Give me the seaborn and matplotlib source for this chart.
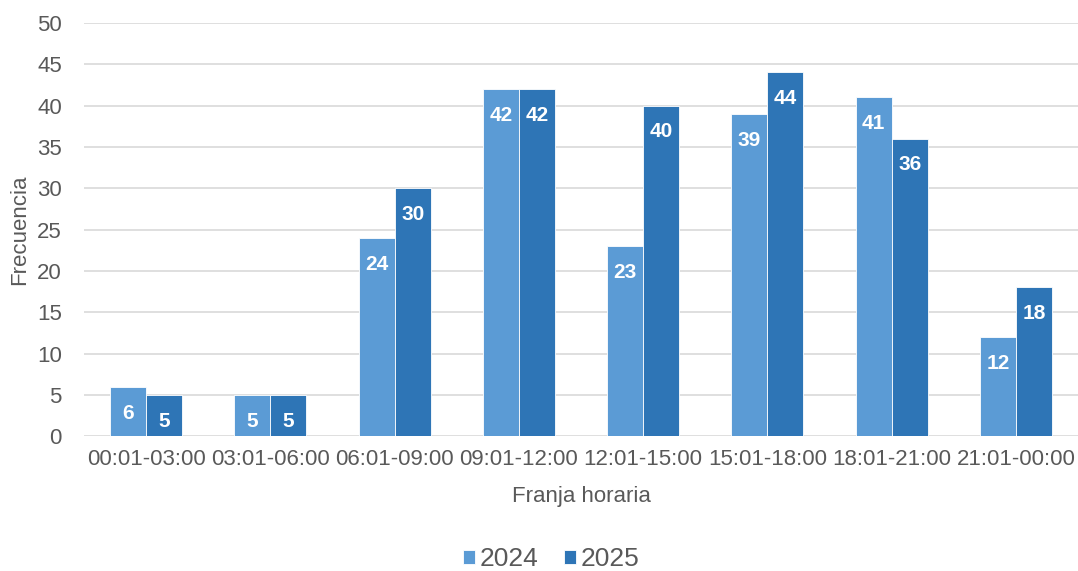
import pandas as pd
import matplotlib.pyplot as plt
import seaborn as sns

franjas = [
    "00:01-03:00", "03:01-06:00", "06:01-09:00", "09:01-12:00",
    "12:01-15:00", "15:01-18:00", "18:01-21:00", "21:01-00:00",
]
valores_2024 = [6, 5, 24, 42, 23, 39, 41, 12]
valores_2025 = [5, 5, 30, 42, 40, 44, 36, 18]
anios = ["2024", "2025"]

sns.set_theme(style="white")
plt.rcParams["font.family"] = ["Liberation Sans", "DejaVu Sans"]

gris = "#595959"
colores = {"2024": "#5B9BD5", "2025": "#2E75B6"}

df = pd.DataFrame({
    "franja": franjas * 2,
    "valor": valores_2024 + valores_2025,
    "anio": [anios[0]] * len(franjas) + [anios[1]] * len(franjas),
})

fig = plt.figure(figsize=(10.78, 5.71), dpi=100)
ax = fig.add_axes([0.078, 0.236, 0.922, 0.724])

sns.barplot(
    data=df, x="franja", y="valor", hue="anio", palette=colores,
    saturation=1, width=0.58, gap=0, edgecolor="white", linewidth=0.6,
    ax=ax, zorder=3,
)

# etiquetas dentro del extremo de cada barra
for cont in ax.containers:
    for bar in cont:
        h = bar.get_height()
        ax.annotate(
            f"{int(h)}", (bar.get_x() + bar.get_width() / 2, h),
            xytext=(0, -19), textcoords="offset points",
            ha="center", va="center", color="white",
            fontsize=15, fontweight="bold", zorder=4,
        )

ax.set_ylim(0, 50)
ax.set_xlim(-0.5, 7.5)
ax.set_yticks(range(0, 51, 5))
ax.yaxis.grid(True, color="#d9d9d9", linewidth=1.2, zorder=0)
for s in ax.spines.values():
    s.set_visible(False)
ax.tick_params(axis="both", length=0, labelsize=16, labelcolor=gris)
ax.tick_params(axis="y", pad=16)
ax.tick_params(axis="x", pad=9)
ax.set_xlabel("Franja horaria", fontsize=16, color=gris, labelpad=12)
ax.set_ylabel("Frecuencia", fontsize=16, color=gris, labelpad=5)

ax.legend(
    loc="center", bbox_to_anchor=(0.47, -0.297), ncol=2, frameon=False,
    fontsize=19, labelcolor=gris, handlelength=0.45, handleheight=0.45,
    handletextpad=0.15, columnspacing=1.0,
)

fig.savefig("out.png", dpi=100)
